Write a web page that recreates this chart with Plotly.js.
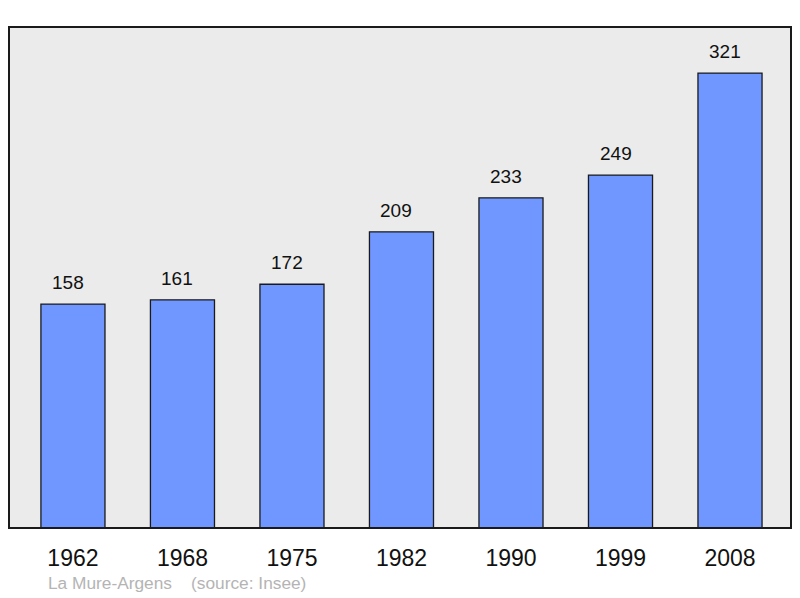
<!DOCTYPE html>
<html>
<head>
<meta charset="utf-8">
<script src="https://cdn.plot.ly/plotly-3.0.1.min.js"></script>
<style>
  html, body { margin: 0; padding: 0; background: #fff; }
  #chart { width: 800px; height: 598px; }
</style>
</head>
<body>
<div id="chart"></div>
<script>
// Population by census year
const years = ['1962', '1968', '1975', '1982', '1990', '1999', '2008'];
const population = [158, 161, 172, 209, 233, 249, 321];
const footer = 'La Mure-Argens    (source: Insee)';

const idx = years.map((_, i) => i);

const traces = [{
    type: 'bar',
    x: idx,
    y: population,
    width: 0.585,
    marker: { color: '#7096ff', line: { color: '#1a1a1a', width: 1.3 } },
    hoverinfo: 'skip',
}];

// value labels sit a little left of the bar centre in the original
const labels = population.map((v, i) => ({
    x: i, y: v, xref: 'x', yref: 'y',
    text: String(v), showarrow: false,
    yanchor: 'bottom', yshift: 9, xshift: -5,
    font: { size: 19, color: '#111' },
}));

labels.push({
    xref: 'paper', yref: 'paper', x: 0.047, y: 0,
    xanchor: 'left', yanchor: 'middle', yshift: -55,
    text: footer.replace(/ /g, '&nbsp;'), showarrow: false,
    font: { size: 17.3, color: '#b4b4b4' },
});

const layout = {
    width: 800, height: 598,
    paper_bgcolor: '#ffffff',
    plot_bgcolor: '#ebebeb',
    font: { family: 'Liberation Sans, Arial, sans-serif', color: '#111' },
    margin: { l: 9, r: 9, t: 27, b: 70 },
    showlegend: false,
    xaxis: {
        range: [-0.584, 6.557],
        tickvals: idx, ticktext: years,
        showgrid: false, zeroline: false, showline: false,
        ticks: '', ticklabelstandoff: 14,
        tickfont: { size: 23, color: '#111' },
        fixedrange: true,
    },
    yaxis: {
        range: [0, 353.5],
        showgrid: false, zeroline: false, showline: false,
        showticklabels: false, ticks: '',
        fixedrange: true,
    },
    shapes: [{
        type: 'rect', xref: 'paper', yref: 'paper',
        x0: 0, x1: 1, y0: 0, y1: 1,
        line: { color: '#1a1a1a', width: 2 },
        fillcolor: 'rgba(0,0,0,0)',
        layer: 'above',
    }],
    annotations: labels,
};

Plotly.newPlot('chart', traces, layout, { displayModeBar: false, staticPlot: true });
</script>
</body>
</html>
